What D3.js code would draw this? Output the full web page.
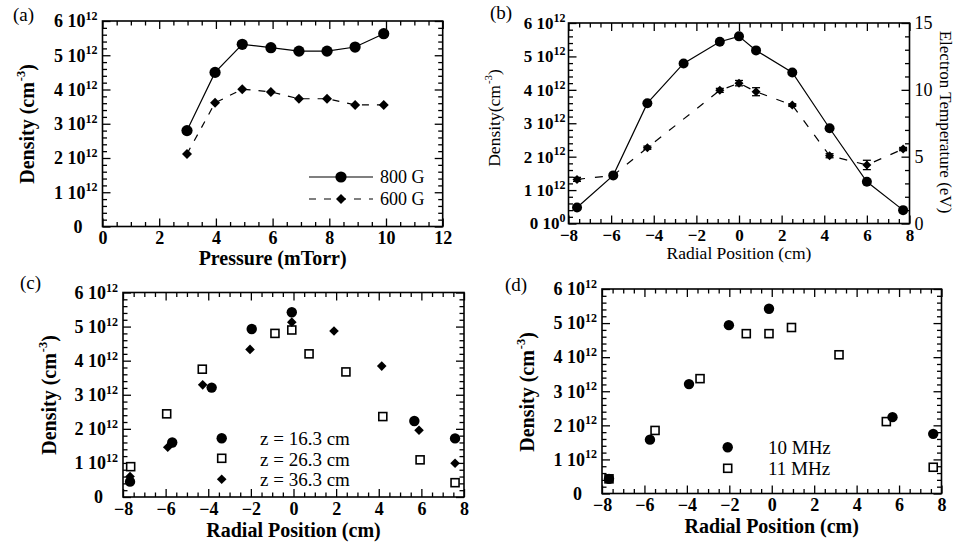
<!DOCTYPE html>
<html>
<head>
<meta charset="utf-8">
<script src="https://cdn.jsdelivr.net/npm/d3@7"></script>
<style>
  html, body { margin: 0; padding: 0; background: #fff; }
  svg text { font-family: "Liberation Serif", "Tinos", "DejaVu Serif", "Noto Serif", serif !important; fill: #000; }
</style>
</head>
<body>
<svg id="fig" width="954" height="546"></svg>
<script>
// ---- (a) density vs pressure (units of 1e12 cm^-3) ----
const pressure    = [2.98, 3.97, 4.93, 5.94, 6.93, 7.92, 8.91, 9.92];
const density800G = [2.80, 4.50, 5.32, 5.22, 5.12, 5.12, 5.24, 5.63];
const density600G = [2.12, 3.61, 4.01, 3.93, 3.73, 3.73, 3.55, 3.55];

// ---- (b) radial density profile and electron temperature ----
const radialDensity  = [-7.6, -5.9, -4.3, -2.6, -0.9, 0.0, 0.8, 2.5, 4.25, 6.0, 7.7];
const densityProfile = [0.48, 1.44, 3.60, 4.79, 5.44, 5.60, 5.18, 4.52, 2.85, 1.25, 0.40];
const radialTemp     = [-7.6, -5.9, -4.3, -0.9, 0.0, 0.8, 2.5, 4.25, 6.0, 7.7];
const electronTemp   = [3.30, 3.60, 5.67, 9.96, 10.50, 9.86, 8.86, 5.07, 4.38, 5.57];
const tempError      = [0.15, 0.0, 0.12, 0.15, 0.2, 0.3, 0.1, 0.15, 0.35, 0.12];

// ---- (c) radial profiles at three axial positions ----
const radialZ16  = [-7.67, -5.69, -3.84, -1.96, -0.08, 5.67, 7.58];
const densityZ16 = [0.45, 1.60, 3.21, 4.93, 5.42, 2.23, 1.72];
const radialZ26  = [-7.64, -5.95, -4.28, -0.87, -0.08, 0.73, 2.46, 4.19, 5.94, 7.58];
const densityZ26 = [0.89, 2.44, 3.75, 4.80, 4.90, 4.20, 3.67, 2.36, 1.09, 0.42];
const radialZ36  = [-7.67, -5.90, -4.26, -2.04, -0.08, 1.90, 4.14, 5.89, 7.58];
const densityZ36 = [0.60, 1.46, 3.29, 4.33, 5.13, 4.87, 3.84, 1.96, 0.99];

// ---- (d) radial profiles at two RF frequencies ----
const radial10MHz  = [-7.67, -5.74, -3.90, -2.02, -0.13, 5.69, 7.61];
const density10MHz = [0.43, 1.58, 3.21, 4.94, 5.42, 2.24, 1.75];
const radial11MHz  = [-7.67, -5.50, -3.38, -1.20, -0.13, 0.93, 3.17, 5.40, 7.61];
const density11MHz = [0.43, 1.85, 3.37, 4.69, 4.69, 4.87, 4.07, 2.11, 0.77];

// tick values
const densityTicks = [0, 1, 2, 3, 4, 5, 6];
const pressureTicks = [0, 2, 4, 6, 8, 10, 12];
const radialTicks = [-8, -6, -4, -2, 0, 2, 4, 6, 8];
const tempTicks = [0, 5, 10, 15];

const svg = d3.select("#fig");
const zip = (xs, ys) => xs.map((x, i) => ({ x, y: ys[i] }));
const range = (a, b, s) => d3.range(a, b + s / 2, s).map(v => +v.toFixed(4));

function panel(box, xDomain, xTicks, xMinorStep, opts) {
  const g = svg.append("g");
  const x = d3.scaleLinear().domain(xDomain).range([box.left, box.right]);
  const y = d3.scaleLinear().domain([0, 6]).range([box.bottom, box.top]);
  const major = 8, minor = 4.5;
  const xMinor = range(xDomain[0], xDomain[1], xMinorStep).filter(v => !xTicks.includes(v));
  const yMinor = range(0, 6, 0.2).filter(v => !densityTicks.includes(v));

  const ax = (axis, t) => g.append("g").attr("transform", t).call(axis)
    .call(s => s.select(".domain").remove())
    .call(s => s.selectAll(".tick line").attr("stroke", "#000").attr("stroke-width", 1.3));

  // bottom and top axes, ticks pointing inward
  const bottom = ax(d3.axisBottom(x).tickValues(xTicks).tickSize(-major).tickPadding(opts.xPad),
    `translate(0,${box.bottom})`);
  bottom.selectAll(".tick text").attr("font-size", opts.tickSize).attr("font-weight", "bold");
  ax(d3.axisBottom(x).tickValues(xMinor).tickSize(-minor).tickFormat(""), `translate(0,${box.bottom})`);
  ax(d3.axisTop(x).tickValues(xTicks).tickSize(-major).tickFormat(""), `translate(0,${box.top})`);
  ax(d3.axisTop(x).tickValues(xMinor).tickSize(-minor).tickFormat(""), `translate(0,${box.top})`);

  // left axis with "n 10^12" labels; a bare "0" sits further out
  const left = ax(d3.axisLeft(y).tickValues(densityTicks).tickSize(-major).tickPadding(opts.yPad).tickFormat(""),
    `translate(${box.left},0)`);
  left.selectAll(".tick text").each(function (d) {
    const t = d3.select(this).attr("font-size", opts.tickSize).attr("font-weight", "bold");
    if (d === 0 && !opts.zeroExp) { t.attr("x", -20).text("0"); return; }
    t.append("tspan").text(d + " 10");
    t.append("tspan").attr("font-size", 12).attr("dy", "-0.6em").text(d === 0 ? "0" : "12");
  });
  ax(d3.axisLeft(y).tickValues(yMinor).tickSize(-minor).tickFormat(""), `translate(${box.left},0)`);
  if (!opts.rightScale) {
    ax(d3.axisRight(y).tickValues(densityTicks).tickSize(-major).tickFormat(""), `translate(${box.right},0)`);
    ax(d3.axisRight(y).tickValues(yMinor).tickSize(-minor).tickFormat(""), `translate(${box.right},0)`);
  }

  g.append("rect").attr("x", box.left).attr("y", box.top)
    .attr("width", box.right - box.left).attr("height", box.bottom - box.top)
    .attr("fill", "none").attr("stroke", "#000").attr("stroke-width", 1.6);
  return { g, x, y };
}

function yTitle(cx, cy, text, size, weight) {
  const t = svg.append("text").attr("transform", `translate(${cx},${cy}) rotate(-90)`)
    .attr("text-anchor", "middle").attr("font-size", size).attr("font-weight", weight);
  t.append("tspan").text(text);
  t.append("tspan").attr("font-size", size * 0.62).attr("dy", "-0.75em").attr("dx", 1).text("-3");
  t.append("tspan").attr("dy", "0.47em").text(")");
}
function xTitle(cx, cy, text, size, weight) {
  svg.append("text").attr("x", cx).attr("y", cy).attr("text-anchor", "middle")
    .attr("font-size", size).attr("font-weight", weight).text(text);
}
function label(xp, yp, text) {
  svg.append("text").attr("x", xp).attr("y", yp).attr("font-size", 19).text(text);
}

const circle = (g, pts, x, y, r) => g.selectAll(null).data(pts).join("circle")
  .attr("cx", d => x(d.x)).attr("cy", d => y(d.y)).attr("r", r).attr("fill", "#000");
const diamond = (g, pts, x, y, s) => g.selectAll(null).data(pts).join("path")
  .attr("d", d => `M${x(d.x)},${y(d.y) - s}L${x(d.x) + s},${y(d.y)}L${x(d.x)},${y(d.y) + s}L${x(d.x) - s},${y(d.y)}Z`)
  .attr("fill", "#000");
const square = (g, pts, x, y, s) => g.selectAll(null).data(pts).join("rect")
  .attr("x", d => x(d.x) - s / 2).attr("y", d => y(d.y) - s / 2).attr("width", s).attr("height", s)
  .attr("fill", "#fff").attr("stroke", "#000").attr("stroke-width", 1.6);

// ================= (a) =================
{
  const box = { left: 102.5, right: 442.7, top: 21, bottom: 226.5 };
  const { g, x, y } = panel(box, [0, 12], pressureTicks, 0.5, { xPad: 5, yPad: 5, tickSize: 18 });
  const line = d3.line().x(d => x(d.x)).y(d => y(d.y));
  const s800 = zip(pressure, density800G), s600 = zip(pressure, density600G);
  g.append("path").attr("d", line(s800)).attr("fill", "none").attr("stroke", "#000").attr("stroke-width", 1.2);
  g.append("path").attr("d", line(s600)).attr("fill", "none").attr("stroke", "#000").attr("stroke-width", 1.2)
    .attr("stroke-dasharray", "7,8");
  circle(g, s800, x, y, 5.6);
  diamond(g, s600, x, y, 5);

  // legend
  const lg = svg.append("g");
  lg.append("line").attr("x1", 309).attr("x2", 373).attr("y1", 177).attr("y2", 177).attr("stroke", "#000").attr("stroke-width", 1.2);
  lg.append("circle").attr("cx", 341).attr("cy", 177).attr("r", 5.6);
  lg.append("line").attr("x1", 309).attr("x2", 373).attr("y1", 199).attr("y2", 199).attr("stroke", "#000")
    .attr("stroke-width", 1.2).attr("stroke-dasharray", "7,8");
  lg.append("path").attr("d", "M341,194L346,199L341,204L336,199Z");
  lg.append("text").attr("x", 380).attr("y", 183).attr("font-size", 18).text("800 G");
  lg.append("text").attr("x", 380).attr("y", 205).attr("font-size", 18).text("600 G");

  yTitle(34, 124, "Density (cm", 20, "bold");
  xTitle(272.6, 265, "Pressure (mTorr)", 20, "bold");
  label(13, 21, "(a)");
}

// ================= (b) =================
{
  const box = { left: 568.5, right: 909.5, top: 23, bottom: 223.5 };
  const { g, x, y } = panel(box, [-8, 8], radialTicks, 0.5,
    { xPad: 5, yPad: 3, zeroExp: true, rightScale: true, tickSize: 17 });
  const yT = d3.scaleLinear().domain([0, 15]).range([box.bottom, box.top]);
  const tMinor = range(0, 15, 1).filter(v => !tempTicks.includes(v));
  const right = g.append("g").attr("transform", `translate(${box.right},0)`)
    .call(d3.axisRight(yT).tickValues(tempTicks).tickSize(-8).tickPadding(5))
    .call(s => s.select(".domain").remove());
  right.selectAll(".tick line").attr("stroke-width", 1.3);
  right.selectAll(".tick text").attr("font-size", 18);
  g.append("g").attr("transform", `translate(${box.right},0)`)
    .call(d3.axisRight(yT).tickValues(tMinor).tickSize(-4.5).tickFormat(""))
    .call(s => s.select(".domain").remove())
    .selectAll(".tick line").attr("stroke-width", 1.3);

  const dens = zip(radialDensity, densityProfile);
  const temp = radialTemp.map((r, i) => ({ x: r, y: electronTemp[i], e: tempError[i] }));
  g.append("path").attr("d", d3.line().x(d => x(d.x)).y(d => y(d.y))(dens))
    .attr("fill", "none").attr("stroke", "#000").attr("stroke-width", 1.2);
  g.append("path").attr("d", d3.line().x(d => x(d.x)).y(d => yT(d.y))(temp))
    .attr("fill", "none").attr("stroke", "#000").attr("stroke-width", 1.2).attr("stroke-dasharray", "8,10");
  // error bars on temperature
  const eb = g.selectAll(null).data(temp.filter(d => d.e > 0)).join("g");
  eb.append("line").attr("x1", d => x(d.x)).attr("x2", d => x(d.x))
    .attr("y1", d => yT(d.y - d.e)).attr("y2", d => yT(d.y + d.e)).attr("stroke", "#000").attr("stroke-width", 1.3);
  eb.append("line").attr("x1", d => x(d.x) - 4).attr("x2", d => x(d.x) + 4)
    .attr("y1", d => yT(d.y - d.e)).attr("y2", d => yT(d.y - d.e)).attr("stroke", "#000").attr("stroke-width", 1.3);
  eb.append("line").attr("x1", d => x(d.x) - 4).attr("x2", d => x(d.x) + 4)
    .attr("y1", d => yT(d.y + d.e)).attr("y2", d => yT(d.y + d.e)).attr("stroke", "#000").attr("stroke-width", 1.3);
  diamond(g, temp, x, yT, 4.5);
  circle(g, dens, x, y, 5);

  yTitle(500, 118, "Density(cm", 17.5, "normal");
  xTitle(739, 259, "Radial Position (cm)", 17.5, "normal");
  svg.append("text").attr("transform", `translate(940,122) rotate(90)`).attr("text-anchor", "middle")
    .attr("font-size", 17).text("Electron Temperature (eV)");
  label(490, 19, "(b)");
}

// ================= (c) =================
{
  const box = { left: 123, right: 464, top: 292.5, bottom: 497 };
  const { g, x, y } = panel(box, [-8, 8], radialTicks, 0.5, { xPad: 5, yPad: 5, tickSize: 18 });
  square(g, zip(radialZ26, densityZ26), x, y, 8);
  diamond(g, zip(radialZ36, densityZ36), x, y, 4.8);
  circle(g, zip(radialZ16, densityZ16), x, y, 5.2);

  const lg = svg.append("g");
  lg.append("circle").attr("cx", 221.7).attr("cy", 438.3).attr("r", 5.2);
  lg.append("rect").attr("x", 217.7).attr("y", 454.3).attr("width", 8).attr("height", 8)
    .attr("fill", "#fff").attr("stroke", "#000").attr("stroke-width", 1.6);
  lg.append("path").attr("d", "M221.7,474.5L226.5,479.3L221.7,484.1L216.9,479.3Z");
  [["z = 16.3 cm", 445], ["z = 26.3 cm", 465.5], ["z = 36.3 cm", 486]].forEach(([t, yy]) =>
    lg.append("text").attr("x", 260).attr("y", yy).attr("font-size", 19).text(t));

  yTitle(56, 395, "Density (cm", 20, "bold");
  xTitle(293.5, 537, "Radial Position (cm)", 20, "bold");
  label(20, 289, "(c)");
}

// ================= (d) =================
{
  const box = { left: 602, right: 941.5, top: 289, bottom: 493.5 };
  const { g, x, y } = panel(box, [-8, 8], radialTicks, 0.5, { xPad: 5, yPad: 5, tickSize: 18 });
  square(g, zip(radial11MHz, density11MHz), x, y, 8);
  circle(g, zip(radial10MHz, density10MHz), x, y, 5.2);

  const lg = svg.append("g");
  lg.append("circle").attr("cx", 727.7).attr("cy", 447.3).attr("r", 5.2);
  lg.append("rect").attr("x", 723.7).attr("y", 464.3).attr("width", 8).attr("height", 8)
    .attr("fill", "#fff").attr("stroke", "#000").attr("stroke-width", 1.6);
  lg.append("text").attr("x", 768).attr("y", 454).attr("font-size", 19).text("10 MHz");
  lg.append("text").attr("x", 768).attr("y", 475).attr("font-size", 19).text("11 MHz");

  yTitle(534, 392, "Density (cm", 20, "bold");
  xTitle(771.7, 533, "Radial Position (cm)", 20, "bold");
  label(505, 291, "(d)");
}
</script>
</body>
</html>
